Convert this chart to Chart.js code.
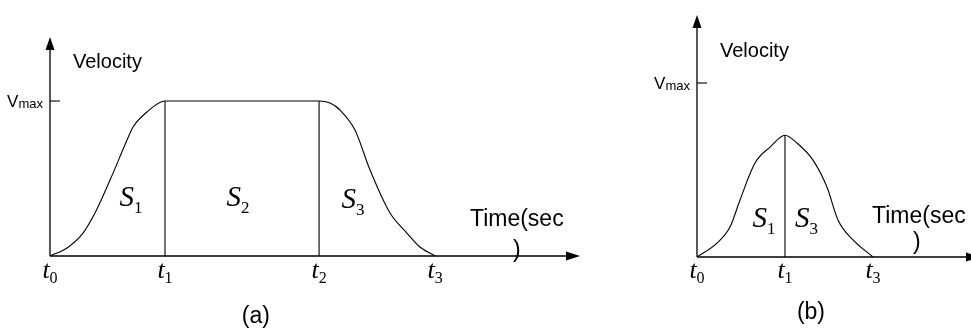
<!DOCTYPE html>
<html lang="en">
<head>
<meta charset="UTF-8">
<title>Velocity profiles</title>
<script src="https://cdn.jsdelivr.net/npm/chart.js"></script>
<style>
  html, body { margin: 0; padding: 0; background: #fff; overflow: hidden; }
  #wrap { position: relative; width: 971px; height: 331px; overflow: hidden; }
  #chartA { position: absolute; left: 0; top: 0; }
  #chartB { position: absolute; left: 600px; top: 0; }
</style>
</head>
<body>
<div id="wrap">
  <canvas id="chartA" width="600" height="331"></canvas>
  <canvas id="chartB" width="400" height="331"></canvas>
</div>
<script>
// (a) accelerate, cruise at Vmax, decelerate
const timeA = [0, 0.148, 0.287, 0.391, 0.522, 0.67, 0.722, 0.843, 1, 2.34, 2.435, 2.522, 2.652, 2.783, 2.957, 3.104, 3.217, 3.35];
const velA  = [0, 0.052, 0.148, 0.277, 0.49, 0.748, 0.832, 0.929, 1, 1, 0.987, 0.942, 0.813, 0.555, 0.277, 0.148, 0.058, 0];
const marksA = [0, 1, 2.34, 3.35];
const markNamesA = ['0', '1', '2', '3'];
const splitsA = [1, 2.34];

// (b) short move, peak stays below Vmax
const timeB = [0, 0.227, 0.375, 0.489, 0.659, 0.83, 1, 1.136, 1.318, 1.477, 1.602, 1.773, 2];
const velB  = [0, 0.08, 0.172, 0.328, 0.54, 0.632, 0.7, 0.655, 0.557, 0.402, 0.213, 0.098, 0];
const marksB = [0, 1, 2];
const markNamesB = ['0', '1', '3'];
const splitsB = [1];

const VMAX = 1;

const SANS = '"Liberation Sans", Arial, sans-serif';
const SERIF = '"Liberation Serif", "Times New Roman", serif';

// draw a run of text pieces: [text, font, dy]
function rich(ctx, parts, x, y, align) {
  let w = 0;
  parts.forEach(p => { ctx.font = p[1]; w += ctx.measureText(p[0]).width; });
  let cx = align === 'center' ? x - w / 2 : align === 'right' ? x - w : x;
  parts.forEach(p => {
    ctx.font = p[1];
    ctx.fillText(p[0], cx, y + (p[2] || 0));
    cx += ctx.measureText(p[0]).width;
  });
}

function sym(letter, sub, big, small, drop) {
  return [[letter, 'italic ' + big + 'px ' + SERIF, 0], [sub, small + 'px ' + SERIF, drop]];
}

const diagram = {
  id: 'diagram',
  afterDraw(chart, args, o) {
    const { ctx, chartArea: a, scales: { x, y } } = chart;
    const px = v => x.getPixelForValue(v), py = v => y.getPixelForValue(v);
    const x0 = px(0), y0 = py(0);
    ctx.save();
    ctx.strokeStyle = '#000';
    ctx.fillStyle = '#000';
    ctx.lineWidth = 1.3;

    // axes with arrow heads
    ctx.beginPath();
    ctx.moveTo(x0, y0); ctx.lineTo(a.right - 10, y0);
    ctx.moveTo(x0, y0); ctx.lineTo(x0, a.top + 10);
    ctx.stroke();
    ctx.beginPath();
    ctx.moveTo(a.right, y0); ctx.lineTo(a.right - 14, y0 - 4.5); ctx.lineTo(a.right - 14, y0 + 4.5); ctx.closePath();
    ctx.moveTo(x0, a.top); ctx.lineTo(x0 - 4.5, a.top + 13); ctx.lineTo(x0 + 4.5, a.top + 13); ctx.closePath();
    ctx.fill();

    // Vmax tick
    const yv = py(VMAX);
    ctx.lineWidth = 1.1;
    ctx.beginPath(); ctx.moveTo(x0, yv); ctx.lineTo(x0 + 10, yv); ctx.stroke();
    ctx.textBaseline = 'alphabetic';
    rich(ctx, [['V', '17px ' + SANS, 0], ['max', '13px ' + SANS, 1]], x0 - 7, yv + 6, 'right');

    ctx.font = '20px ' + SANS;
    ctx.fillText('Velocity', px(o.velocity[0]), py(o.velocity[1]));
    ctx.font = '23px ' + SANS;
    ctx.fillText('Time(sec', px(o.time[0]), py(o.time[1]));
    ctx.fillText(')', px(o.paren[0]), py(o.paren[1]));

    // time marks under the axis
    o.marks.forEach((t, i) => {
      rich(ctx, sym('t', o.markNames[i], 26, 16, 5), px(t), py(o.markY), 'center');
    });
    // area labels
    o.areas.forEach(s => {
      rich(ctx, sym('S', s.n, 29, 17, 7), px(s.at[0]), py(s.at[1]), 'center');
    });

    ctx.font = '23px ' + SANS;
    ctx.textAlign = 'center';
    ctx.fillText(o.caption, px(o.captionAt[0]), py(o.captionAt[1]));
    ctx.restore();
  }
};

function points(ts, vs) {
  return ts.map((t, i) => ({ x: t, y: vs[i] }));
}

function makeChart(id, ts, vs, splits, pad, xMax, yMax, labels) {
  const line = { borderColor: '#000', borderWidth: 1.1, pointRadius: 0, fill: false };
  const datasets = [Object.assign({ data: points(ts, vs), cubicInterpolationMode: 'monotone' }, line)];
  splits.forEach(t => {
    const v = vs[ts.indexOf(t)];
    datasets.push(Object.assign({ data: [{ x: t, y: 0 }, { x: t, y: v }], tension: 0 }, line));
  });
  return new Chart(document.getElementById(id), {
    type: 'line',
    data: { datasets },
    options: {
      responsive: false,
      animation: false,
      layout: { padding: pad },
      scales: {
        x: { type: 'linear', min: 0, max: xMax, display: false },
        y: { type: 'linear', min: 0, max: yMax, display: false }
      },
      plugins: { legend: { display: false }, tooltip: { enabled: false }, diagram: labels }
    },
    plugins: [diagram]
  });
}

makeChart('chartA', timeA, velA, splitsA,
  { left: 50, right: 20, top: 37, bottom: 75 }, 4.609, 1.413, {
    velocity: [0.2, 1.213], time: [3.652, 0.194], paren: [4.026, -0.006],
    marks: marksA, markNames: markNamesA, markY: -0.142,
    areas: [{ n: '1', at: [0.704, 0.32] }, { n: '2', at: [1.635, 0.32] }, { n: '3', at: [2.635, 0.31] }],
    caption: '(a)', captionAt: [1.79, -0.432]
  });

makeChart('chartB', timeB, velB, splitsB,
  { left: 97, right: 20, top: 15, bottom: 74 }, 3.216, 1.391, {
    velocity: [0.261, 1.149], time: [1.989, 0.195], paren: [2.455, 0.046],
    marks: marksB, markNames: markNamesB, markY: -0.121,
    areas: [{ n: '1', at: [0.76, 0.172] }, { n: '3', at: [1.244, 0.172] }],
    caption: '(b)', captionAt: [1.295, -0.356]
  });
</script>
</body>
</html>
